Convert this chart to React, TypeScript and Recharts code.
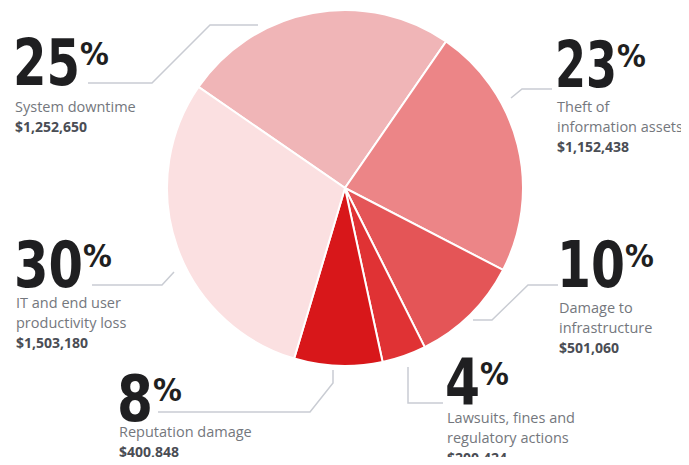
import { PieChart, Pie, Cell } from "recharts";

const categories = [
  "System downtime",
  "Theft of information assets",
  "Damage to infrastructure",
  "Lawsuits, fines and regulatory actions",
  "Reputation damage",
  "IT and end user productivity loss",
];
const costs = [1252650, 1152438, 501060, 200424, 400848, 1503180];
const percentLabels = ["25", "23", "10", "4", "8", "30"];
const costLabels = ["$1,252,650", "$1,152,438", "$501,060", "$200,424", "$400,848", "$1,503,180"];
const textLines = [
  ["System downtime"],
  ["Theft of", "information assets"],
  ["Damage to", "infrastructure"],
  ["Lawsuits, fines and", "regulatory actions"],
  ["Reputation damage"],
  ["IT and end user", "productivity loss"],
];
const colors = ["#f0b5b7", "#ec8587", "#e45557", "#e03234", "#d8171a", "#fbe0e1"];

const data = categories.map((name, i) => ({ name, value: costs[i] }));

// where each annotation sits: number baseline, text x, leader line
const layout = [
  { x: 13, y: 85, digitW: 67, textY: 112, line: "88,83 152,83 210,25 258,25" },
  { x: 555, y: 87, digitW: 62, textY: 112, line: "511,98 522,89 552,89" },
  { x: 557, y: 287, digitW: 68, textY: 313, line: "473,320 492,320 528,285 558,285" },
  { x: 445, y: 405, digitW: 35, textY: 423, line: "408,367 408,403 443,403" },
  { x: 117, y: 421, digitW: 36, textY: 437, line: "158,412 310,412 333,383 333,370" },
  { x: 14, y: 287, digitW: 69, textY: 308, line: "92,285 162,285 174,272" },
];

const renderLabel = (props: any) => {
  const i = props.index;
  const l = layout[i];
  const lines = textLines[i];
  return (
    <g key={`lbl-${i}`}>
      <polyline points={l.line} fill="none" stroke="#c9ccd3" strokeWidth={1.5} />
      <text
        x={l.x}
        y={l.y}
        fill="#1f1f21"
        fontFamily="'DejaVu Sans Condensed', 'DejaVu Sans', sans-serif"
        fontWeight="bold"
        fontSize={64}
        textLength={l.digitW}
        lengthAdjust="spacingAndGlyphs"
      >
        {percentLabels[i]}
      </text>
      <text
        x={l.x + l.digitW}
        y={l.y - 20}
        fill="#1f1f21"
        fontFamily="'DejaVu Sans Condensed', 'DejaVu Sans', sans-serif"
        fontWeight="bold"
        fontSize={32}
      >
        %
      </text>
      {lines.map((t, k) => (
        <text
          key={k}
          x={l.x + 2}
          y={l.textY + k * 20}
          fill="#74777d"
          fontFamily="'Open Sans', sans-serif"
          fontSize={14.5}
        >
          {t}
        </text>
      ))}
      <text
        x={l.x + 2}
        y={l.textY + lines.length * 20}
        fill="#4a4d54"
        fontFamily="'Open Sans', sans-serif"
        fontWeight="bold"
        fontSize={14}
      >
        {costLabels[i]}
      </text>
    </g>
  );
};

export default function App() {
  return (
    <div style={{ width: 689, height: 465, background: "#fff", margin: -8 }}>
      <PieChart width={689} height={465} margin={{ top: 0, right: 0, bottom: 0, left: 0 }}>
        <Pie
          data={data}
          dataKey="value"
          cx={345}
          cy={188}
          outerRadius={178}
          startAngle={145.4}
          endAngle={-214.6}
          stroke="#ffffff"
          strokeWidth={2}
          label={renderLabel}
          labelLine={false}
          isAnimationActive={false}
        >
          {data.map((d, i) => (
            <Cell key={d.name} fill={colors[i]} />
          ))}
        </Pie>
      </PieChart>
    </div>
  );
}
